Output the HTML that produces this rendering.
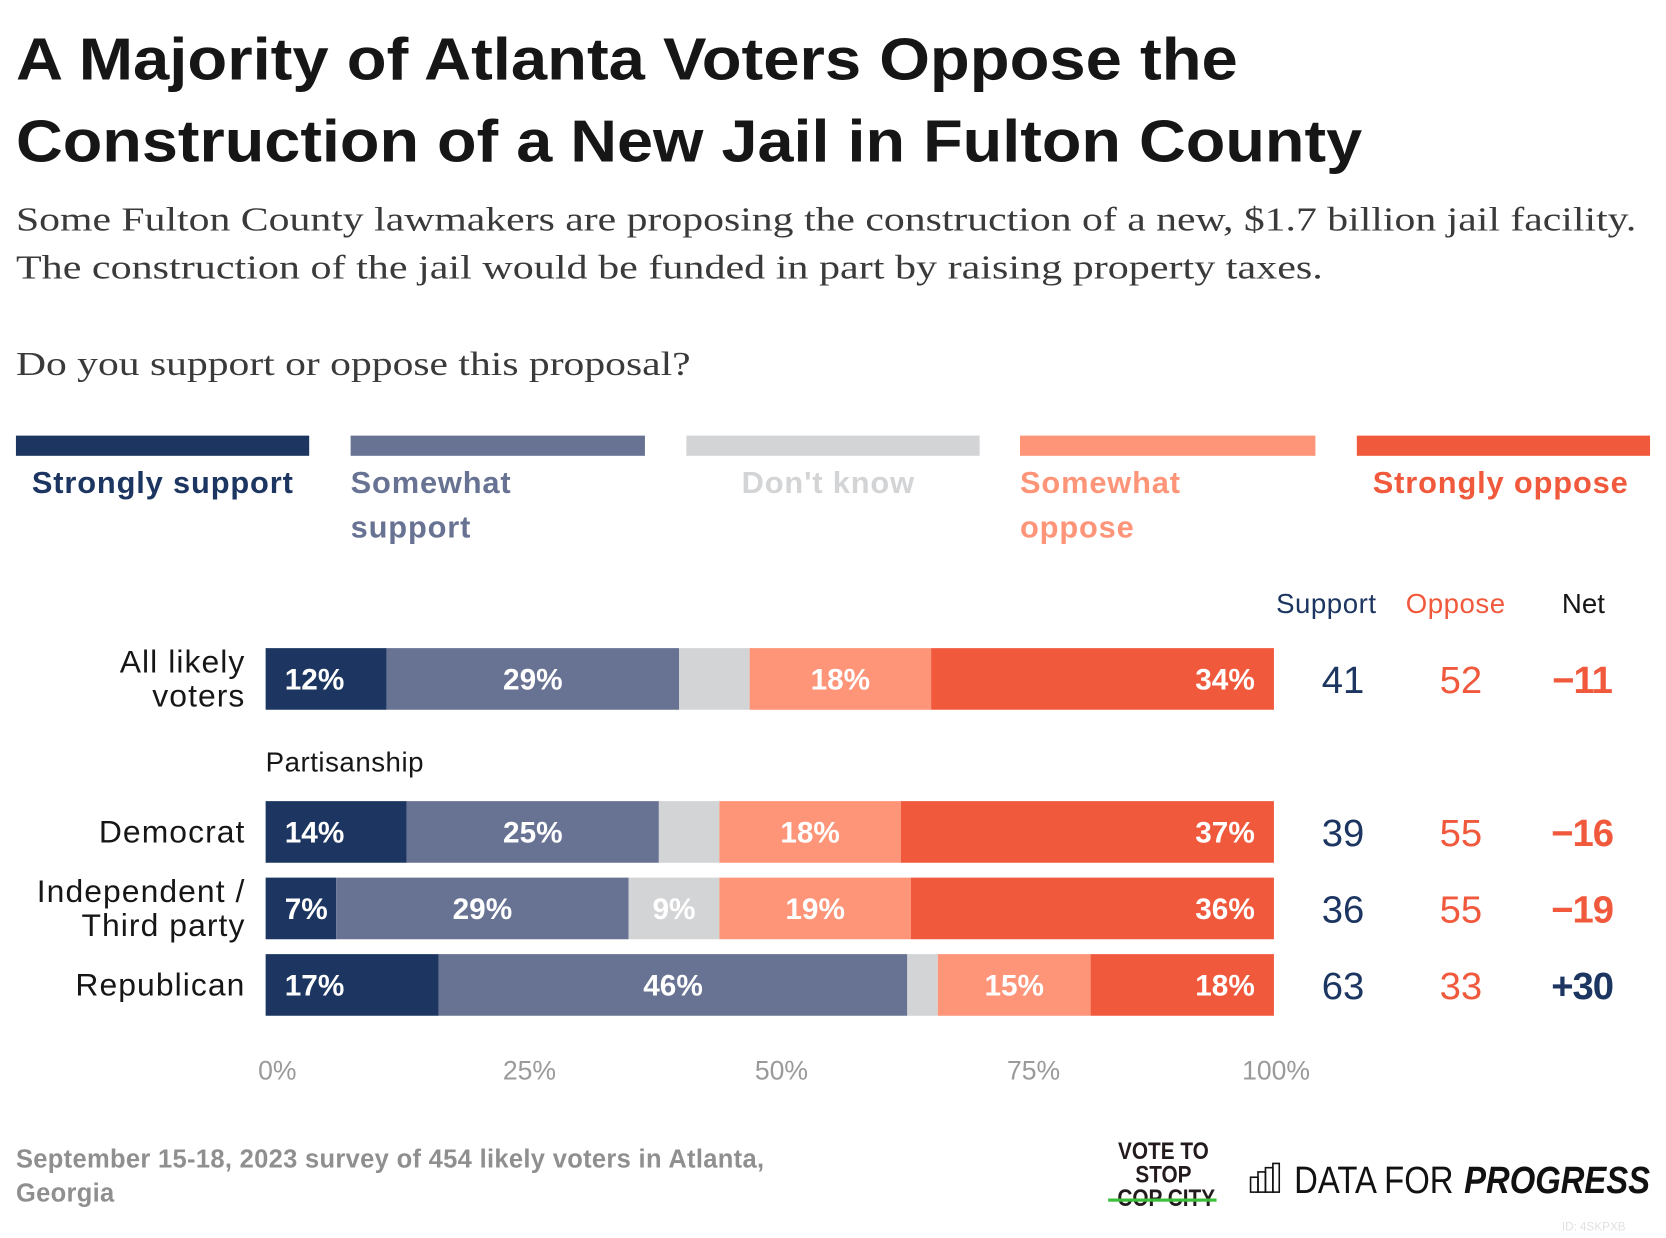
<!DOCTYPE html>
<html><head><meta charset="utf-8"><style>
html,body{margin:0;padding:0;background:#fff;width:1666px;height:1238px;overflow:hidden}
#wrap{position:absolute;left:0;top:0;width:1561px;height:1160px;transform:scale(1.0625);transform-origin:0 0;font-family:"Liberation Sans",sans-serif}
.abs{position:absolute;white-space:nowrap}
.leg-bar{position:absolute;top:410px;height:19px}
.leg-txt{position:absolute;top:434px;font-size:29px;font-weight:bold;line-height:42px;letter-spacing:0.8px}
</style></head><body>
<div id="wrap">
<svg class="abs" style="left:0;top:0" width="1561" height="380">
<text x="15" y="75" font-size="56" font-weight="bold" fill="#161616" font-family="Liberation Sans, sans-serif" textLength="1150" lengthAdjust="spacingAndGlyphs">A Majority of Atlanta Voters Oppose the</text>
<text x="15" y="152" font-size="56" font-weight="bold" fill="#161616" font-family="Liberation Sans, sans-serif" textLength="1267" lengthAdjust="spacingAndGlyphs">Construction of a New Jail in Fulton County</text>
<text x="15" y="217" font-size="32" fill="#3a3a3a" font-family="Liberation Serif, serif" textLength="1525" lengthAdjust="spacingAndGlyphs">Some Fulton County lawmakers are proposing the construction of a new, $1.7 billion jail facility.</text>
<text x="15" y="262" font-size="32" fill="#3a3a3a" font-family="Liberation Serif, serif" textLength="1230" lengthAdjust="spacingAndGlyphs">The construction of the jail would be funded in part by raising property taxes.</text>
<text x="15" y="353" font-size="32" fill="#3a3a3a" font-family="Liberation Serif, serif" textLength="635" lengthAdjust="spacingAndGlyphs">Do you support or oppose this proposal?</text>
</svg>

<div class="leg-bar" style="left:15px;width:276px;background:#1c3661"></div>
<div class="leg-txt" style="left:30px;color:#1c3661">Strongly support</div>
<div class="leg-bar" style="left:330px;width:277px;background:#687394"></div>
<div class="leg-txt" style="left:330px;color:#687394">Somewhat<br>support</div>
<div class="leg-bar" style="left:646px;width:276px;background:#d3d4d6"></div>
<div class="leg-txt" style="left:698px;color:#d3d4d6">Don't know</div>
<div class="leg-bar" style="left:960px;width:278px;background:#fe9478"></div>
<div class="leg-txt" style="left:960px;color:#fe9478">Somewhat<br>oppose</div>
<div class="leg-bar" style="left:1277px;width:276px;background:#f1593d"></div>
<div class="leg-txt" style="left:1292px;color:#f1593d">Strongly oppose</div>

<div class="abs" style="left:1201px;top:553px;font-size:26px;color:#1c3661;letter-spacing:0.5px">Support</div>
<div class="abs" style="left:1323px;top:553px;font-size:26px;color:#f1593d;letter-spacing:0.5px">Oppose</div>
<div class="abs" style="left:1470px;top:553px;font-size:26px;color:#161616">Net</div>
<div class="abs" style="left:250px;top:702px;font-size:26px;color:#161616;letter-spacing:0.5px">Partisanship</div>

<svg id="plot" class="abs" style="left:0;top:0" width="1561" height="1160"></svg>

<div class="abs" style="left:15px;top:1076px;font-size:24px;font-weight:bold;color:#8f8f8f;line-height:32px;letter-spacing:0.3px">September 15-18, 2023 survey of 454 likely voters in Atlanta,<br>Georgia</div>
<div class="abs" style="left:1044px;top:1072px;width:102px;text-align:center;font-weight:bold;font-size:23px;line-height:22px;color:#231a1c;transform:scaleX(0.85)">VOTE TO<br>STOP<br>COP CITY</div>
<div class="abs" style="left:1043px;top:1128px;width:102px;height:3px;background:#3cbf3a"></div>
<svg class="abs" style="left:1176px;top:1094px" width="30" height="30">
<rect x="1" y="14" width="7" height="14" fill="none" stroke="#111" stroke-width="1.5"/><rect x="8" y="9" width="7" height="19" fill="none" stroke="#111" stroke-width="1.5"/><rect x="15" y="5" width="7" height="23" fill="none" stroke="#111" stroke-width="1.5"/><rect x="22" y="1" width="6" height="27" fill="none" stroke="#111" stroke-width="1.5"/></svg>
<svg class="abs" style="left:1210px;top:1085px" width="351" height="50">
<text x="8" y="38" font-size="36" fill="#111" font-family="Liberation Sans, sans-serif" textLength="150" lengthAdjust="spacingAndGlyphs">DATA FOR</text>
<text x="168" y="38" font-size="36" font-weight="bold" font-style="italic" fill="#111" font-family="Liberation Sans, sans-serif" textLength="175" lengthAdjust="spacingAndGlyphs">PROGRESS</text>
</svg>
<div class="abs" style="left:1470px;top:1149px;font-size:11px;color:#e0e0e0">ID: 4SKPXB</div>
</div>
<script>
const categories=["All likely voters","Democrat","Independent / Third party","Republican"];
const labelLines=[["All likely","voters"],["Democrat"],["Independent /","Third party"],["Republican"]];
const strongSupport=[12,14,7,17];
const somewhatSupport=[29,25,29,46];
const dontKnow=[7,6,9,3];
const somewhatOppose=[18,18,19,15];
const strongOppose=[34,37,36,18];
const supportTotals=[41,39,36,63];
const opposeTotals=[52,55,55,33];
const netValues=["−11","−16","−19","+30"];
const tickValues=[0,25,50,75,100];
const tickLabels=["0%","25%","50%","75%","100%"];

const NS="http://www.w3.org/2000/svg";
const svg=document.getElementById('plot');
const X0=250,X1=1199;
const rowTop=[610,754,826,898],barH=58;
const x=v=>X0+(X1-X0)*v/100;
function mk(t,a){const e=document.createElementNS(NS,t);for(const k in a)e.setAttribute(k,a[k]);svg.appendChild(e);return e;}
const series=[[strongSupport,"#1c3661","#fff","strongly-support"],[somewhatSupport,"#687394","#fff","somewhat-support"],[dontKnow,"#d3d4d6","#fff","dont-know"],[somewhatOppose,"#fe9478","#fff","somewhat-oppose"],[strongOppose,"#f1593d","#fff","strongly-oppose"]];
categories.forEach((c,i)=>{
  let tot=0;series.forEach(s=>tot+=s[0][i]);
  let cum=0;
  const y=rowTop[i];
  series.forEach((s,j)=>{
    const v=s[0][i]*100/tot;
    const xa=x(cum),xb=x(cum+v);
    const r=mk('rect',{x:xa,y:y,width:xb-xa,height:barH,fill:s[1]});
    
    
    if(s[0][i]>=7 && !(j==2 && i==0)){
      let tx,anchor;
      if(j==0){tx=xa+18;anchor='start';}else if(j==4){tx=xb-18;anchor='end';}else{tx=(xa+xb)/2;anchor='middle';}
      const t=mk('text',{x:tx,y:y+barH/2+10,'text-anchor':anchor,fill:s[2],'font-size':28,'font-weight':'bold','font-family':'Liberation Sans, sans-serif'});
      t.textContent=s[0][i]+'%';
      
      
    }
    cum+=v;
  });
  const lines=labelLines[i];
  lines.forEach((ln,k)=>{
    const t=mk('text',{x:231,y:y+barH/2+10+(k-(lines.length-1)/2)*32,'text-anchor':'end',fill:'#161616','font-size':30,'letter-spacing':1,'font-family':'Liberation Sans, sans-serif'});
    t.textContent=ln;
    
    
  });
  const cy=y+barH/2+13;
  const a=mk('text',{x:1264,y:cy,'text-anchor':'middle',fill:'#1c3661','font-size':36,'font-family':'Liberation Sans, sans-serif'});
  a.textContent=supportTotals[i];
  const b=mk('text',{x:1375,y:cy,'text-anchor':'middle',fill:'#f1593d','font-size':36,'font-family':'Liberation Sans, sans-serif'});
  b.textContent=opposeTotals[i];
  const n=mk('text',{x:1489,y:cy,'text-anchor':'middle',fill:netValues[i][0]=='+'?'#1c3661':'#f1593d','font-size':36,'font-weight':'bold','font-family':'Liberation Sans, sans-serif','letter-spacing':-1});
  n.textContent=netValues[i];
});
tickValues.forEach((v,i)=>{
  const t=mk('text',{x:x(v)+(i==tickValues.length-1?2:11),y:1016,'text-anchor':'middle',fill:'#9a9a9a','font-size':25,'font-family':'Liberation Sans, sans-serif'});
  t.textContent=tickLabels[i];
  
  
});
</script>
</body></html>
